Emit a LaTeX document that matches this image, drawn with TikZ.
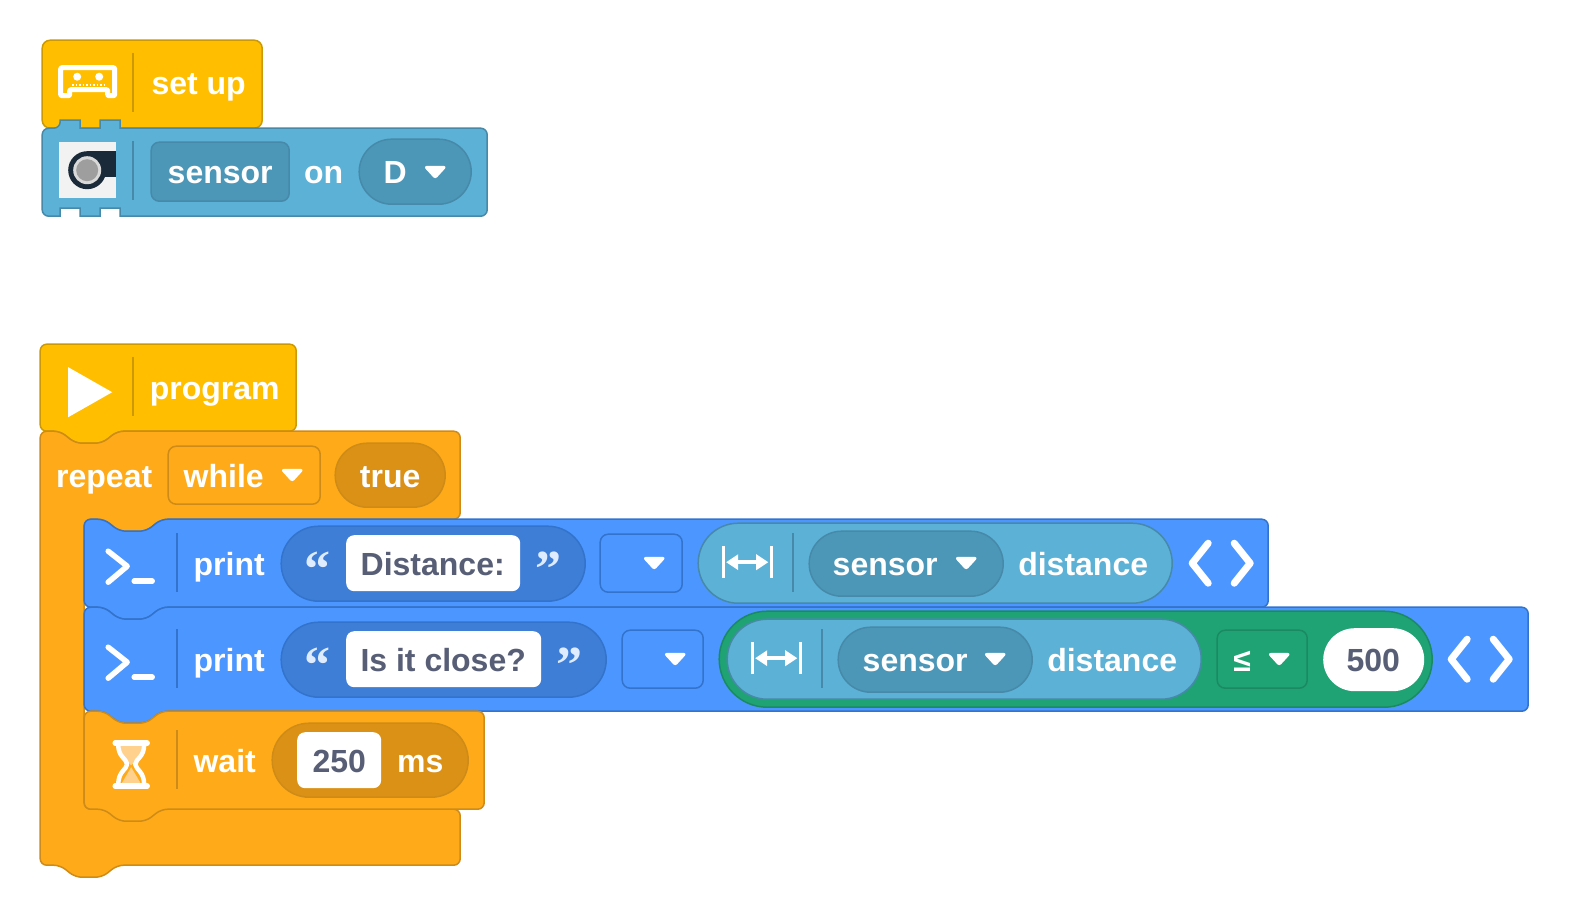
\documentclass[tikz,border=0pt]{standalone}
\usepackage{fontspec}
\setmainfont{Liberation Sans}
\newfontfamily\quotefont{Liberation Serif}
\definecolor{hatyellow}{RGB}{255, 191, 0}
\definecolor{hatedge}{RGB}{204, 153, 0}
\definecolor{ctrlorange}{RGB}{255, 171, 25}
\definecolor{ctrledge}{RGB}{207, 139, 23}
\definecolor{ctrlfield}{RGB}{219, 145, 21}
\definecolor{senseblue}{RGB}{92, 177, 214}
\definecolor{senseedge}{RGB}{71, 137, 168}
\definecolor{sensefield}{RGB}{76, 151, 184}
\definecolor{printblue}{RGB}{76, 151, 255}
\definecolor{printedge}{RGB}{51, 115, 204}
\definecolor{printfield}{RGB}{63, 126, 215}
\definecolor{opgreen}{RGB}{32, 163, 116}
\definecolor{opedge}{RGB}{27, 138, 98}
\definecolor{inktext}{RGB}{87, 94, 117}
\definecolor{sandtone}{RGB}{255, 209, 140}
\definecolor{camdark}{RGB}{27, 42, 56}
\tikzset{
	lbl/.style={text=white, font=\fontsize{32}{36}\selectfont\bfseries, inner sep=0, anchor=base},
	inlbl/.style={lbl, text=inktext},
	quot/.style={text=white!82!printblue, font=\fontsize{52}{56}\quotefont\bfseries, inner sep=0, anchor=base},
	hatblock/.style={fill=hatyellow, draw=hatedge, line width=1.5pt},
	ctrlblock/.style={fill=ctrlorange, draw=ctrledge, line width=1.5pt},
	senseblock/.style={fill=senseblue, draw=senseedge, line width=1.5pt},
	printblock/.style={fill=printblue, draw=printedge, line width=1.5pt},
	ctrlbox/.style={fill=ctrlfield, draw=ctrledge, line width=1.5pt},
	sensebox/.style={fill=sensefield, draw=senseedge, line width=1.5pt},
	printbox/.style={fill=printfield, draw=printedge, line width=1.5pt},
	whilebox/.style={fill=ctrlorange, draw=ctrledge, line width=1.5pt},
	emptybox/.style={fill=printblue, draw=printedge, line width=1.5pt},
	lightbox/.style={fill=senseblue, draw=senseedge, line width=1.5pt},
	greenbox/.style={fill=opgreen, draw=opedge, line width=1.5pt},
	whitebox/.style={fill=white, draw=none},
	whitestroke/.style={draw=white, line cap=round, line join=round}
}
% block with a notch on top and a bump below
\newcommand{\notchblock}[5]{
	\filldraw [#1, rounded corners=6.5pt] (#2, {(#3+#5)/2}) -- (#2, #3) -- (#2+20, #3) -- (#2+35, #3+12) -- (#2+62, #3+12)
		-- (#2+77, #3) -- (#4, #3) -- (#4, #5) -- (#2+77, #5) -- (#2+62, #5+12) -- (#2+35, #5+12) -- (#2+20, #5) -- (#2, #5) -- cycle;
}
\newcommand{\pillbox}[5]{
	\pgfmathsetmacro{\pillr}{(#5-#3)/2-0.01}
	\filldraw [#1, rounded corners=\pillr pt] (#2, #3) rectangle (#4, #5);
}
\newcommand{\fieldbox}[5]{
	\filldraw [#1, rounded corners=8pt] (#2, #3) rectangle (#4, #5);
}
\newcommand{\sepline}[4]{
	\draw [#1, line width=1.5pt] (#2, #3) -- (#2, #4);
}
\newcommand{\dropmark}[2]{
	\filldraw [white, line width=1.5pt, line join=round, rounded corners=2pt] (#1, #2-5.5) -- (#1+10.5, #2-5.5) -- (#1, #2+6) -- (#1-10.5, #2-5.5) -- cycle;
}
\newcommand{\widthicon}[2]{
	\draw [white, line width=3pt] (#1, #2-16) -- (#1, #2+16);
	\draw [white, line width=3pt] (#1+48, #2-16) -- (#1+48, #2+16);
	\draw [white, line width=3.5pt] (#1+12, #2) -- (#1+36, #2);
	\fill [white] (#1+3, #2) -- (#1+15, #2-8) -- (#1+15, #2+8) -- cycle;
	\fill [white] (#1+45, #2) -- (#1+33, #2-8) -- (#1+33, #2+8) -- cycle;
}
\newcommand{\printicon}[1]{
	\draw [whitestroke, line width=5.5pt] (108, #1-15) -- (127, #1) -- (108, #1+16);
	\draw [whitestroke, line width=5.5pt] (134, #1+15) -- (152, #1+15);
}
\newcommand{\angleicons}[2]{
	\draw [whitestroke, line width=7pt] (#1+16, #2-20) -- (#1, #2) -- (#1+16, #2+20);
	\draw [whitestroke, line width=7pt] (#1+42, #2-20) -- (#1+58, #2) -- (#1+42, #2+20);
}
\begin{document}
\begin{tikzpicture}[x=1pt, y=-1pt]
	\useasboundingbox (-0.2, -0.2) rectangle (1568.8, 917.8);
	% set up hat
	\filldraw [hatblock, rounded corners=8pt] (42, 40) rectangle (262, 128);
	\sepline{hatedge}{133}{53}{112}
	\draw [whitestroke, line width=5pt, rounded corners=1pt] (60.5, 67.5) -- (114.5, 67.5) -- (114.5, 95.5) -- (107.5, 95.5) -- (107.5, 89.5) -- (69.5, 89.5) -- (69.5, 95.5) -- (60.5, 95.5) -- cycle;
	\fill [white] (77, 76.5) circle (4);
	\fill [white] (99, 76.5) circle (4);
	\draw [white, line width=1.5pt, dotted] (72, 85) -- (105, 85);
	\node [lbl] (setuplbl) at (198.5, 94.5) {set up};
	% sensor block
	\filldraw [senseblock, rounded corners=6.5pt] (42, 172) -- (42, 128) -- (60, 128) [sharp corners] -- (60, 120) -- (80, 120) -- (80, 128) -- (100, 128) -- (100, 120) -- (120, 120) -- (120, 128)
		[rounded corners=6.5pt] -- (487, 128) -- (487, 216) [sharp corners] -- (120, 216)
		-- (120, 208) -- (100, 208) -- (100, 216) -- (80, 216) -- (80, 208) -- (60, 208) -- (60, 216)
		[rounded corners=6.5pt] -- (42, 216) -- cycle;
	\fill [white!95!black] (59, 142) rectangle (116, 198);
	\fill [camdark] (87, 151) rectangle (116, 177);
	\fill [camdark] (87, 170) circle (19);
	\fill [white!85!black] (87, 170) circle (14);
	\fill [white!62!black] (87, 170) circle (11);
	\sepline{senseedge}{133}{141}{200}
	\fieldbox{sensebox}{151}{142}{289}{201}
	\node [lbl] (sensorlbl) at (220, 183) {sensor};
	\node [lbl] (onlbl) at (323.5, 183) {on};
	\pillbox{sensebox}{359}{139}{471}{204}
	\node [lbl] (portlbl) at (395, 183) {D};
	\dropmark{435}{172}
	% program hat
	\filldraw [hatblock, rounded corners=6.5pt] (40, 388) -- (40, 344) -- (296, 344) -- (296, 431) -- (117, 431) -- (102, 443) -- (75, 443) -- (60, 431) -- (40, 431) -- cycle;
	\sepline{hatedge}{133}{357}{416}
	\fill [white] (68, 367) -- (112, 392) -- (68, 417) -- cycle;
	\node [lbl] (programlbl) at (214.5, 399) {program};
	% repeat
	\filldraw [ctrlblock, rounded corners=6.5pt] (40, 600) -- (40, 431) -- (60, 431) -- (75, 443) -- (102, 443) -- (117, 431) -- (460, 431) -- (460, 519)
		-- (161, 519) -- (146, 531) -- (119, 531) -- (104, 519) -- (84, 519) -- (84, 809) -- (460, 809) -- (460, 865) -- (117, 865) -- (102, 877) -- (75, 877) -- (60, 865) -- (40, 865) -- cycle;
	\node [lbl] (repeatlbl) at (104, 487) {repeat};
	\fieldbox{whilebox}{168}{446}{320}{504}
	\node [lbl] (whilelbl) at (223.5, 487) {while};
	\dropmark{292}{475}
	\pillbox{ctrlbox}{335}{443}{445}{507}
	\node [lbl] (truelbl) at (390, 487) {true};
	% first print
	\notchblock{printblock}{84}{519}{1268}{607}
	\printicon{566}
	\sepline{printedge}{177}{533}{592}
	\node [lbl] (printalbl) at (229, 575) {print};
	\pillbox{printbox}{281}{526}{585}{601}
	\node [quot] (openaquot) at (317, 586) {“};
	\fieldbox{whitebox}{346}{535}{520}{591}
	\node [inlbl] (distextlbl) at (432.5, 575) {Distance:};
	\node [quot] (closeaquot) at (548, 586) {”};
	\fieldbox{emptybox}{600}{534}{682}{592}
	\dropmark{654}{563}
	\pillbox{lightbox}{698}{523}{1172}{603}
	\widthicon{723}{562}
	\sepline{senseedge}{793}{533}{592}
	\pillbox{sensebox}{809}{531}{1003}{596}
	\node [lbl] (sensoralbl) at (885, 575) {sensor};
	\dropmark{966}{563}
	\node [lbl] (distancealbl) at (1083, 575) {distance};
	\angleicons{1192}{563}
	% second print
	\notchblock{printblock}{84}{607}{1528}{711}
	\printicon{662}
	\sepline{printedge}{177}{629}{688}
	\node [lbl] (printblbl) at (229, 671) {print};
	\pillbox{printbox}{281}{622}{606}{697}
	\node [quot] (openbquot) at (317, 682) {“};
	\fieldbox{whitebox}{346}{631}{541}{687}
	\node [inlbl] (closetextlbl) at (443, 671) {Is it close?};
	\node [quot] (closebquot) at (569, 682) {”};
	\fieldbox{emptybox}{622}{630}{703}{688}
	\dropmark{675}{659}
	\pillbox{greenbox}{719}{611}{1432}{707}
	\pillbox{lightbox}{727}{619}{1201}{699}
	\widthicon{752}{658}
	\sepline{senseedge}{822}{629}{688}
	\pillbox{sensebox}{838}{627}{1032}{692}
	\node [lbl] (sensorblbl) at (915, 671) {sensor};
	\dropmark{995}{659}
	\node [lbl] (distanceblbl) at (1112, 671) {distance};
	\fieldbox{greenbox}{1217}{630}{1307}{688}
	\node [lbl] (lesslbl) at (1242, 671) {≤};
	\dropmark{1279}{659}
	\pillbox{whitebox}{1323}{628}{1424}{691}
	\node [inlbl] (limitlbl) at (1373, 671) {500};
	\angleicons{1451}{659}
	% wait
	\notchblock{ctrlblock}{84}{711}{484}{809}
	\fill [sandtone] (120, 746) -- (142, 746) -- (142, 755) -- (131, 765) -- (120, 755) -- cycle;
	\fill [sandtone] (131, 767) -- (141, 784) -- (121, 784) -- cycle;
	\draw [whitestroke, line width=4.5pt] (118, 744) .. controls (118, 757) and (126, 758) .. (127, 764) .. controls (126, 770) and (118, 771) .. (118, 785);
	\draw [whitestroke, line width=4.5pt] (144, 744) .. controls (144, 757) and (136, 758) .. (135, 764) .. controls (136, 770) and (144, 771) .. (144, 785);
	\draw [whitestroke, line width=5.5pt] (115, 743) -- (147, 743);
	\draw [whitestroke, line width=5.5pt] (115, 786) -- (147, 786);
	\sepline{ctrledge}{177}{730}{789}
	\node [lbl] (waitlbl) at (224.5, 772) {wait};
	\pillbox{ctrlbox}{272}{723}{468}{797}
	\fieldbox{whitebox}{297}{732}{381}{788}
	\node [inlbl] (delaylbl) at (339, 772) {250};
	\node [lbl] (mslbl) at (420, 772) {ms};
\end{tikzpicture}
\end{document}
